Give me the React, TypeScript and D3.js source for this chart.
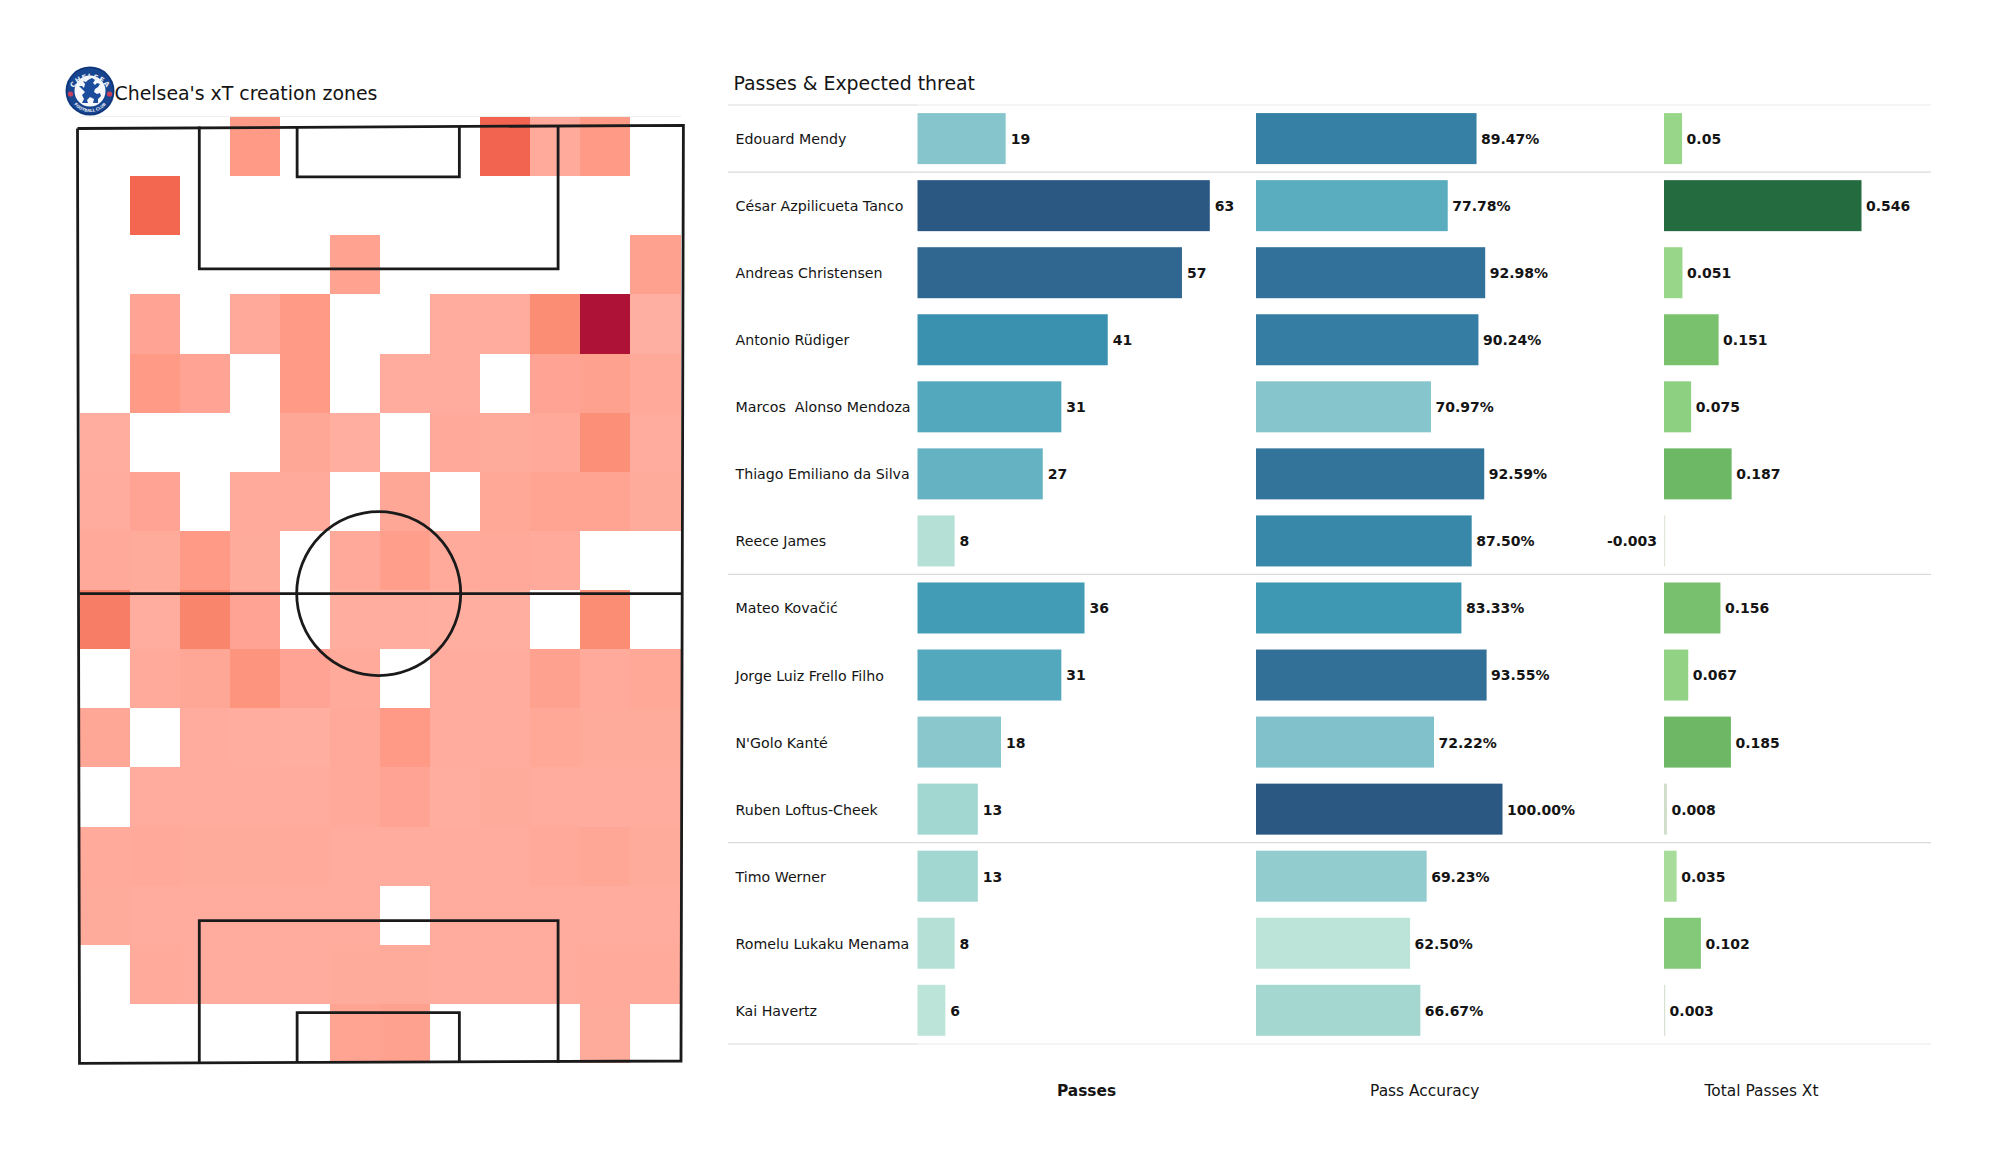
import React from "react";
import * as d3 from "d3";

const players = ["Edouard Mendy","César Azpilicueta Tanco","Andreas Christensen","Antonio Rüdiger","Marcos  Alonso Mendoza","Thiago Emiliano da Silva","Reece James","Mateo Kovačić","Jorge Luiz Frello Filho","N'Golo Kanté","Ruben Loftus-Cheek","Timo Werner","Romelu Lukaku Menama","Kai Havertz"];
const passes = [19,63,57,41,31,27,8,36,31,18,13,13,8,6];
const accuracy = [89.47,77.78,92.98,90.24,70.97,92.59,87.5,83.33,93.55,72.22,100,69.23,62.5,66.67];
const xtValues = [0.05,0.546,0.051,0.151,0.075,0.187,-0.003,0.156,0.067,0.185,0.008,0.035,0.102,0.003];
const xtLabels = ["0.05","0.546","0.051","0.151","0.075","0.187","-0.003","0.156","0.067","0.185","0.008","0.035","0.102","0.003"];
const separatorsAfter = [-1,0,6,10,13];
const columnTitles = ["Passes","Pass Accuracy","Total Passes Xt"];

// xT creation grid (top row first); 0 = no value
const xtGrid = [
  [0,0,0,.2,0,0,0,0,.45,.07,.2,0],
  [0,.44,0,0,0,0,0,0,0,0,0,0],
  [0,0,0,0,0,.14,0,0,0,0,0,.15],
  [0,.12,0,.08,.2,0,0,.05,.05,.28,1,.02],
  [0,.2,.12,0,.2,0,.05,.05,0,.12,.15,.08],
  [.04,0,0,0,.1,.03,0,.08,.06,.08,.27,.05],
  [.05,.12,0,.07,.07,0,.1,0,.09,.13,.13,.06],
  [.08,.06,.2,.06,0,.08,.17,.07,.08,.07,0,0],
  [.35,.04,.32,.12,0,.04,.04,.03,.03,0,.28,0],
  [0,.07,.1,.24,.12,.07,0,.05,.05,.15,.07,.09],
  [.1,0,.05,.04,.03,.08,.2,.05,.05,.09,.06,.06],
  [0,.05,.05,.05,.05,.08,.12,.04,.06,.05,.05,.05],
  [.07,.08,.06,.06,.07,.05,.05,.05,.05,.08,.1,.06],
  [.06,.05,.05,.05,.05,.05,0,.05,.05,.05,.05,.05],
  [0,.07,.05,.05,.05,.06,.06,.05,.05,.05,.07,.07],
  [0,0,0,0,0,.13,.15,0,0,0,.06,0],
];

const heatStops = [0,.1,.2,.3,.45,1];
const heatColors = ["#ffb1a4","#ffa797","#fe9a86","#fa8a71","#f2644f","#af1237"];
const blueStops = [0,.12,.2,.3,.4,.5,.6,.7,.8,.9,1];
const blueColors = ["#bde4d9","#a3d6d0","#8cc8cd","#78bcc9","#5cadc0","#459fb8","#3992b0","#3683a6","#33749b","#2f6690","#2b5783"];
const greenStops = [-0.003,0.01,0.035,0.05,0.1,0.15,0.19,0.546];
const greenColors = ["#dfe6da","#cfdcc6","#a8dc9b","#98d78a","#84c97a","#7ac16e","#6cb764","#256b40"];

const heatColor = d3.scaleLinear<string>().domain(heatStops).range(heatColors).interpolate(d3.interpolateRgb);
const blueRamp = d3.scaleLinear<string>().domain(blueStops).range(blueColors).interpolate(d3.interpolateRgb);
const greenRamp = d3.scaleLinear<string>().domain(greenStops).range(greenColors).interpolate(d3.interpolateRgb);

const FONT = "'DejaVu Sans', sans-serif";
const INK = "#141414";

// Heat map scales
const col = d3.scaleBand<number>().domain(d3.range(12)).range([79.5, 680.5]);
const row = d3.scaleBand<number>().domain(d3.range(16)).range([117, 1063]);

// Pitch in percent of width / length
const px = d3.scaleLinear().domain([0, 100]).range([79.5, 681.5]);
const py = d3.scaleLinear().domain([0, 100]).range([126.5, 1063]);
const penaltyBox = { x0: 19.9, x1: 79.5, depth: 15.2 };
const sixBox = { x0: 36.15, x1: 63.1, depth: 5.37 };
const HALFWAY = 49.87;
const outline: [number, number][] = [[77.5,128.5],[683.4,125.3],[681,1061],[79.5,1063.3],[77.5,128.5]];

// Table scales
const rowY = d3.scaleLinear().domain([0, 13]).range([138.6, 1010.3]);
const BAR_H = 51;
const sepY = (i: number) => i === -1 ? 105 : i === 13 ? 1044 : (rowY(i) + rowY(i + 1)) / 2;
const xPass = d3.scaleLinear().domain([0, 63]).range([917.5, 1209.8]);
const xAcc = d3.scaleLinear().domain([0, 100]).range([1256, 1502.5]);
const xXt = d3.scaleLinear().domain([0, 0.546]).range([1664, 1861.5]);
const passT = d3.scaleLinear().domain([6, 63]).range([0, 1]);
const accT = d3.scaleLinear().domain([62.5, 100]).range([0, 1]);

const lionPath = "M-2 -11 L2 -13 L5 -11 L3 -8 L5 -6 L7 -8 L10 -7 L8 -4 L5 -2 L4 1 L7 3 L10 2 L11 5 L8 8 L8 12 L3 12 L4 8 L0 6 L-3 9 L-2 12 L-8 12 L-6 8 L-8 4 L-5 1 L-8 -2 L-11 -5 L-8 -5 L-6 -3 L-5 -7 L-7 -10 L-4 -9 Z";

function Crest() {
  const cx = 90, cy = 91;
  return (
    <g transform={`translate(${cx},${cy})`}>
      <defs>
        <path id="crestTop" d="M-19 3 A19.5 19.5 0 0 1 19 3" />
        <path id="crestBot" d="M-20 5 A20.5 20.5 0 0 0 20 5" />
      </defs>
      <circle r={24.5} fill="#18458f" />
      <circle r={23.4} fill="none" stroke="#0d2f70" strokeWidth={1} />
      <circle r={15.5} fill="#f7f8fb" />
      <text fontFamily={FONT} fontSize={7} fontWeight={700} fill="#e8edf5" letterSpacing={0.6}>
        <textPath href="#crestTop" startOffset="50%" textAnchor="middle">CHELSEA</textPath>
      </text>
      <text fontFamily={FONT} fontSize={4} fontWeight={700} fill="#e8edf5">
        <textPath href="#crestBot" startOffset="50%" textAnchor="middle">FOOTBALL CLUB</textPath>
      </text>
      {[-1, 1].map((s) => (
        <circle key={s} cx={s * 19.5} cy={3} r={2.6} fill="#c8405a" />
      ))}
      <path d={lionPath} fill="#1c4c9c" />
    </g>
  );
}

export default function App() {
  const circleR = 82;
  const border = d3.line()(outline) ?? "";
  const lineStyle = { stroke: "#1a1a1a", strokeWidth: 2.8, fill: "none" };
  const rect = (x0: number, x1: number, y0: number, y1: number) =>
    d3.line()([[px(x0), py(y0)],[px(x0), py(y1)],[px(x1), py(y1)],[px(x1), py(y0)]]) ?? "";
  return (
    <svg width={2000} height={1175} viewBox="0 0 2000 1175"
      style={{ position: "absolute", left: 0, top: 0, background: "#fff" }} fontFamily={FONT}>
      <rect width={2000} height={1175} fill="#fff" />

      {/* Left title */}
      <Crest />
      <text x={114.5} y={100} fontSize={18.9} fill={INK}>Chelsea's xT creation zones</text>
      <line x1={79} x2={681} y1={116.5} y2={116.5} stroke="#eeeeee" strokeWidth={1} />

      {/* Heat map */}
      <g shapeRendering="crispEdges">
        {xtGrid.flatMap((cells, r) => cells.map((v, c) => v > 0 ? (
          <rect key={`${r}-${c}`} x={col(c)} y={row(r)} width={col.bandwidth()} height={row.bandwidth()} fill={heatColor(v)} />
        ) : null))}
      </g>

      {/* Pitch */}
      <path d={border} {...lineStyle} />
      <line x1={px(0)} x2={px(100)} y1={py(HALFWAY)} y2={py(HALFWAY)} {...lineStyle} />
      <circle cx={px(49.7)} cy={py(HALFWAY)} r={circleR} {...lineStyle} />
      <path d={rect(penaltyBox.x0, penaltyBox.x1, 0, penaltyBox.depth)} {...lineStyle} />
      <path d={rect(sixBox.x0, sixBox.x1, 0, sixBox.depth)} {...lineStyle} />
      <path d={rect(penaltyBox.x0, penaltyBox.x1, 100, 100 - penaltyBox.depth)} {...lineStyle} />
      <path d={rect(sixBox.x0, sixBox.x1, 100, 100 - sixBox.depth)} {...lineStyle} />

      {/* Table */}
      <text x={733.5} y={89.5} fontSize={18.9} fill={INK}>Passes &amp; Expected threat</text>
      {separatorsAfter.map((s) => (
        <g key={s}>
          <line x1={728} x2={917.5} y1={sepY(s)} y2={sepY(s)} stroke={s === -1 || s === 13 ? "#dcdcdc" : "#dadada"} strokeWidth={1.2} />
          <line x1={917.5} x2={1931} y1={sepY(s)} y2={sepY(s)} stroke={s === -1 || s === 13 ? "#ebebeb" : "#dadada"} strokeWidth={1.2} />
        </g>
      ))}
      {players.map((p, i) => {
        const y = rowY(i);
        const neg = xtValues[i] < 0;
        const xtEnd = xXt(xtValues[i]);
        const xtW = Math.max(Math.abs(xtEnd - xXt(0)), 1.2);
        return (
          <g key={p}>
            <text x={735.5} y={y + 0.4} dy="0.36em" fontSize={14.2} fill={INK} xmlSpace="preserve" style={{ whiteSpace: "pre" }}>{p}</text>
            <rect x={xPass(0)} y={y - BAR_H / 2} width={xPass(passes[i]) - xPass(0)} height={BAR_H} fill={blueRamp(passT(passes[i]))} />
            <text x={xPass(passes[i]) + 5} y={y + 0.4} dy="0.36em" fontSize={14} fontWeight={700} fill={INK}>{passes[i]}</text>
            <rect x={xAcc(0)} y={y - BAR_H / 2} width={xAcc(accuracy[i]) - xAcc(0)} height={BAR_H} fill={blueRamp(accT(accuracy[i]))} />
            <text x={xAcc(accuracy[i]) + 4.5} y={y + 0.4} dy="0.36em" fontSize={14} fontWeight={700} fill={INK}>{accuracy[i].toFixed(2)}%</text>
            <rect x={xXt(0)} y={y - BAR_H / 2} width={xtW} height={BAR_H} fill={greenRamp(xtValues[i])} />
            <text x={neg ? xXt(0) - 7 : xtEnd + 4.5} y={y + 0.4} dy="0.36em" fontSize={14} fontWeight={700} fill={INK}
              textAnchor={neg ? "end" : "start"}>{xtLabels[i]}</text>
          </g>
        );
      })}
      {columnTitles.map((t, i) => (
        <text key={t} x={[1086.5, 1424.7, 1761.5][i]} y={1096} textAnchor="middle" fontSize={15.4}
          fontWeight={i === 0 ? 700 : 400} fill={INK}>{t}</text>
      ))}
    </svg>
  );
}
